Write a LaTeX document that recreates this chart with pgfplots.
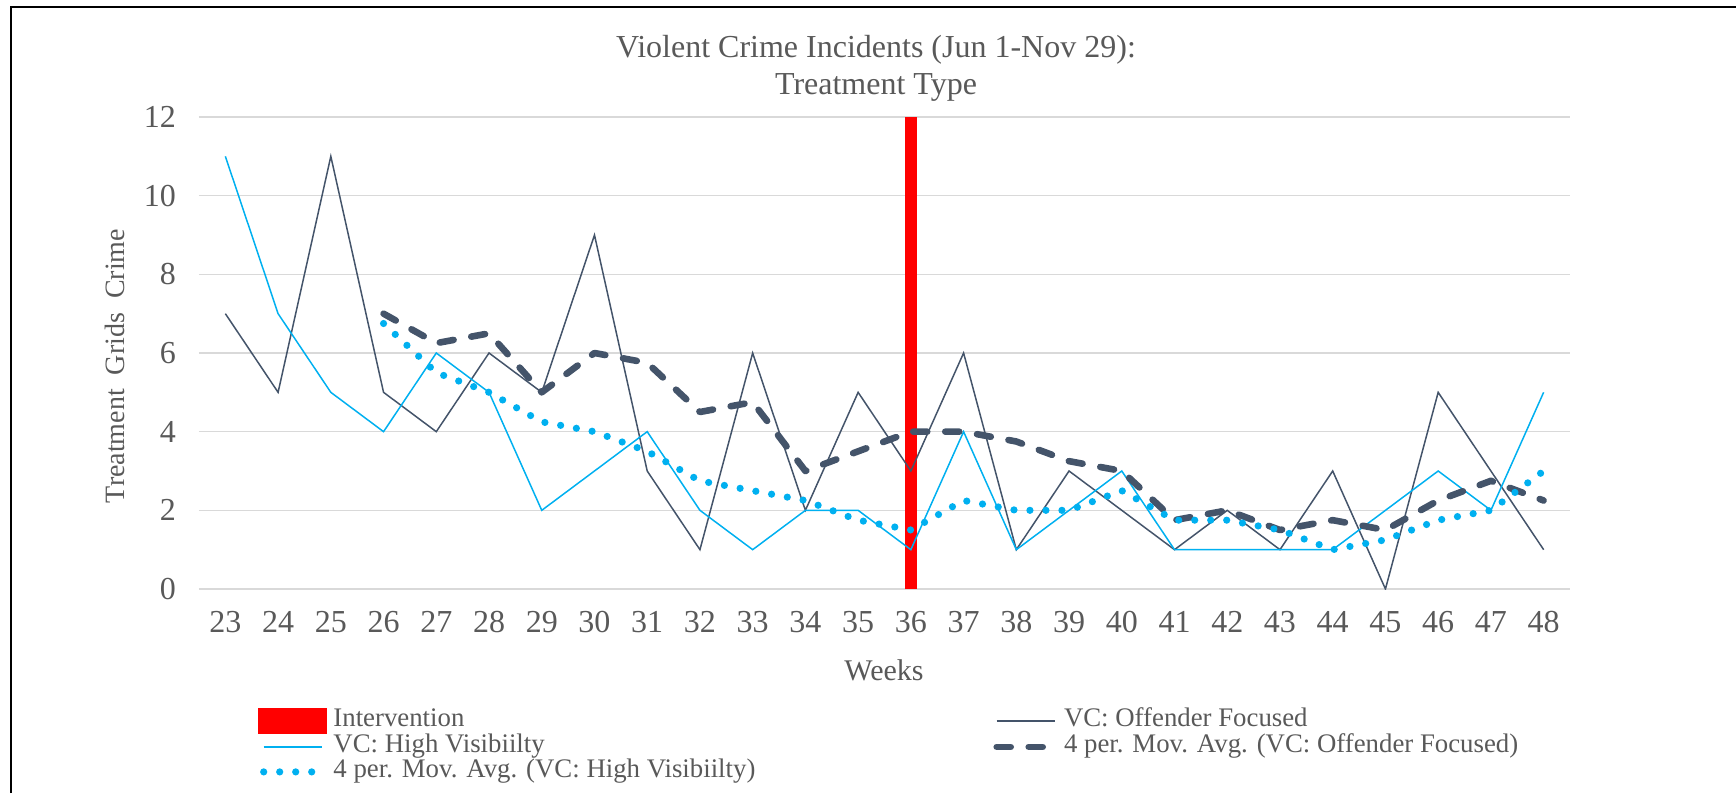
\documentclass[border=0pt]{standalone}
\usepackage{fontspec}
\setmainfont{Liberation Serif}
\usepackage{pgfplots}
\pgfplotsset{compat=1.18}
\definecolor{ofc}{HTML}{44546A}
\definecolor{hvc}{HTML}{00B0F0}
\definecolor{txt}{HTML}{595959}
\definecolor{grd}{HTML}{D9D9D9}
\begin{document}
\begin{tikzpicture}
\path[use as bounding box] (-99.5pt,-102pt) rectangle (768.5pt,294.5pt);
\begin{axis}[
  at={(0pt,0pt)}, anchor=south west,
  scale only axis, width=685.5pt, height=236pt,
  xmin=22.5, xmax=48.5, ymin=0, ymax=12,
  xtick={23,...,48}, ytick={0,2,...,12},
  ymajorgrids, grid style={grd, line width=0.75pt},
  axis line style={draw=none}, tick style={draw=none}, major tick length=0pt,
  /pgf/number format/assume math mode=true,
  ticklabel style={font=\fontsize{16}{16}\selectfont, text=txt},
  xticklabel style={anchor=north, yshift=-7.7pt},
  yticklabel style={anchor=east, xshift=-8pt},
  title={Violent Crime Incidents (Jun 1-Nov 29):\\Treatment Type},
  title style={at={(axis description cs:0.4938,1.149)}, anchor=north, align=center, inner sep=0pt, font=\fontsize{16}{18.8}\selectfont, text=txt},
  xlabel={Weeks},
  xlabel style={at={(axis description cs:0.4996,-0.1949)}, anchor=base, inner sep=0pt, font=\fontsize{15}{15}\selectfont, text=txt},
  ylabel={Treatment\ \ Grids\ \ Crime},
  ylabel style={at={(axis description cs:-0.0613,0.4725)}, anchor=center, inner sep=0pt, font=\fontsize{14}{14}\selectfont, text=txt},
  legend columns=2,
  legend image code/.code={\draw[#1] (0pt,0pt) -- (29pt,0pt);},
  legend style={at={(0.043,-0.2519)}, anchor=north west, draw=none, fill=none,
    inner sep=0pt, outer sep=0pt, row sep=0pt,
    font=\fontsize{13.4}{13.4}\selectfont, text=txt,
    nodes={inner sep=0pt, text height=9pt, text depth=3.5pt, anchor=west},
    /tikz/every odd column/.append style={column sep=3pt},
    /tikz/column 2/.style={column sep=119pt},
    /tikz/column 3/.style={column sep=5pt}},
  legend cell align=left,
]
\addplot[red, line width=5.75pt,
  legend image code/.code={\fill[red] (0pt,-3.75pt) rectangle (29pt,3.75pt);}]
  coordinates {(36,0) (36,12)};
\addlegendentry{Intervention}

\addplot[ofc, line width=0.75pt] table {
x y
23 7
24 5
25 11
26 5
27 4
28 6
29 5
30 9
31 3
32 1
33 6
34 2
35 5
36 3
37 6
38 1
39 3
40 2
41 1
42 2
43 1
44 3
45 0
46 5
47 3
48 1
};
\addlegendentry{VC: Offender Focused}

\addplot[hvc, line width=0.75pt] table {
x y
23 11
24 7
25 5
26 4
27 6
28 5
29 2
30 3
31 4
32 2
33 1
34 2
35 2
36 1
37 4
38 1
39 2
40 3
41 1
42 1
43 1
44 1
45 2
46 3
47 2
48 5
};
\addlegendentry{VC: High Visibiilty}

\addplot[ofc, line width=3.3pt, line cap=round, line join=round, dash pattern=on 7pt off 9pt] table {
x y
26 7
27 6.25
28 6.5
29 5
30 6
31 5.75
32 4.5
33 4.75
34 3
35 3.5
36 4
37 4
38 3.75
39 3.25
40 3
41 1.75
42 2
43 1.5
44 1.75
45 1.5
46 2.25
47 2.75
48 2.25
};
\addlegendentry{4 per. Mov. Avg. (VC: Offender Focused)}

\addplot[hvc, line width=3.6pt, line cap=round, dash pattern=on 0pt off 8pt] table {
x y
26 6.75
27 5.5
28 5
29 4.25
30 4
31 3.5
32 2.75
33 2.5
34 2.25
35 1.75
36 1.5
37 2.25
38 2
39 2
40 2.5
41 1.75
42 1.75
43 1.5
44 1
45 1.25
46 1.75
47 2
48 3
};
\addlegendentry{4 per. Mov. Avg. (VC: High Visibiilty)}
\end{axis}
\draw[line width=1.2pt, line join=miter] (-94pt,-102pt) -- (-94pt,291pt) -- (768.5pt,291pt);
\end{tikzpicture}
\end{document}
